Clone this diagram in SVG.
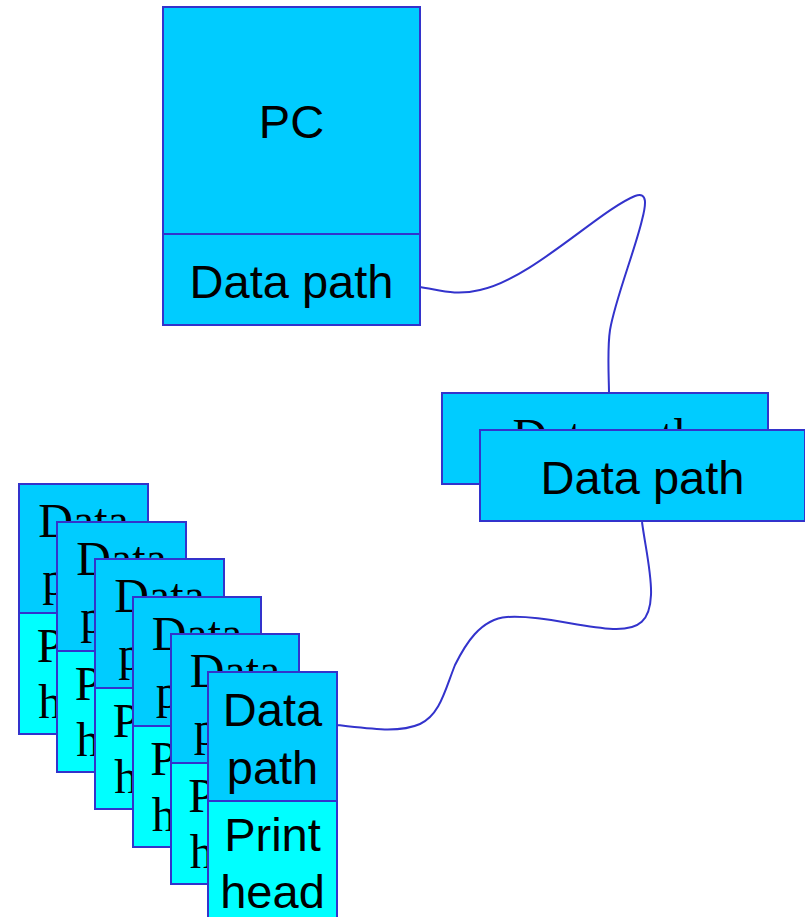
<svg xmlns="http://www.w3.org/2000/svg" width="805" height="917" viewBox="0 0 805 917">
<style>
.dp{fill:#00CCFF;stroke:#3333CC;stroke-width:2}
.ph{fill:#00FFFF;stroke:#3333CC;stroke-width:2}
.sans{font-family:"Liberation Sans",Arial,sans-serif;font-size:47px;fill:#000;text-anchor:middle}
.serif{font-family:"Liberation Serif","Times New Roman",serif;font-size:48px;fill:#000;text-anchor:middle}
.wire{fill:none;stroke:#3333CC;stroke-width:2}
</style>
<rect width="805" height="917" fill="#fff"/>
<g id="connectors">
<path class="wire" d="M420,287 C440,290 455,296 480,290 C530,280 600,210 635,196 C648,191 646,205 642,220 C635,250 615,300 610,330 C607,350 609,380 609,393"/>
<path class="wire" d="M642,522 C645,545 652,575 651,595 C650,620 640,630 613,629 C580,627 540,615 507,617 C480,619 465,645 455,665 C445,690 440,715 420,724 C400,733 370,729 337,725"/>
</g>
<g id="pc">
<rect class="dp" x="163" y="7" width="257" height="318"/>
<line x1="163" y1="234" x2="420" y2="234" stroke="#3333CC" stroke-width="2"/>
<text class="sans" x="291.5" y="138">PC</text>
<text class="sans" x="291.5" y="298">Data path</text>
</g>
<g id="datapath-back">
<rect class="dp" x="442" y="393" width="326" height="91"/>
<text class="serif" x="605" y="452">Data path</text>
</g>
<g id="datapath-front">
<rect class="dp" x="480" y="430" width="325" height="91"/>
<text class="sans" x="642.5" y="494">Data path</text>
</g>
<g id="printer1">
<rect class="dp" x="19" y="484" width="129" height="129"/>
<rect class="ph" x="19" y="613" width="129" height="121"/>
<text class="serif" x="83.5" y="537">Data</text>
<text class="serif" x="83.5" y="595">path</text>
<text class="serif" x="83.5" y="662">Print</text>
<text class="serif" x="83.5" y="718">head</text>
</g>
<g id="printer2">
<rect class="dp" x="57" y="522" width="129" height="129"/>
<rect class="ph" x="57" y="651" width="129" height="121"/>
<text class="serif" x="121.5" y="575">Data</text>
<text class="serif" x="121.5" y="633">path</text>
<text class="serif" x="121.5" y="700">Print</text>
<text class="serif" x="121.5" y="756">head</text>
</g>
<g id="printer3">
<rect class="dp" x="95" y="559" width="129" height="129"/>
<rect class="ph" x="95" y="688" width="129" height="121"/>
<text class="serif" x="159.5" y="612">Data</text>
<text class="serif" x="159.5" y="670">path</text>
<text class="serif" x="159.5" y="737">Print</text>
<text class="serif" x="159.5" y="793">head</text>
</g>
<g id="printer4">
<rect class="dp" x="133" y="597" width="128" height="129"/>
<rect class="ph" x="133" y="726" width="128" height="121"/>
<text class="serif" x="197" y="650">Data</text>
<text class="serif" x="197" y="708">path</text>
<text class="serif" x="197" y="775">Print</text>
<text class="serif" x="197" y="831">head</text>
</g>
<g id="printer5">
<rect class="dp" x="171" y="634" width="128" height="129"/>
<rect class="ph" x="171" y="763" width="128" height="121"/>
<text class="serif" x="235" y="687">Data</text>
<text class="serif" x="235" y="745">path</text>
<text class="serif" x="235" y="812">Print</text>
<text class="serif" x="235" y="868">head</text>
</g>
<g id="printer6">
<rect class="dp" x="208" y="672" width="129" height="129"/>
<rect class="ph" x="208" y="801" width="129" height="121"/>
<text class="sans" x="272.5" y="726">Data</text>
<text class="sans" x="272.5" y="784">path</text>
<text class="sans" x="272.5" y="851">Print</text>
<text class="sans" x="272.5" y="908">head</text>
</g>
</svg>
